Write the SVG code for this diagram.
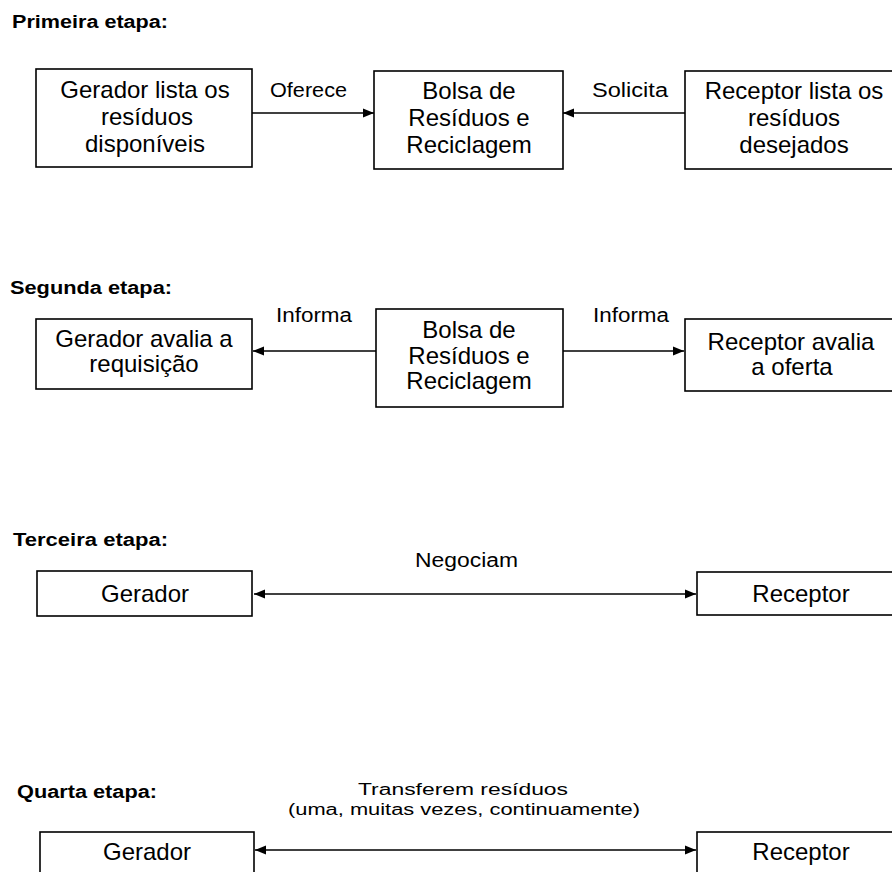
<svg xmlns="http://www.w3.org/2000/svg" width="892" height="872" viewBox="0 0 892 872">
<style>
.box{fill:#fff;stroke:#000;stroke-width:1.6}
.t{font-family:"Liberation Sans",Arial,sans-serif;font-size:24px;fill:#000;text-anchor:middle}
.lbl{font-family:"Liberation Sans",Arial,sans-serif;font-size:20px;fill:#000}
.sm{font-size:16px}
.ttl{font-family:"Liberation Sans",Arial,sans-serif;font-size:18px;font-weight:bold;fill:#000}
.ln{stroke:#000;stroke-width:1.6;fill:none}
</style>
<defs>
<marker id="ah" markerUnits="userSpaceOnUse" markerWidth="12" markerHeight="10" refX="11" refY="5" orient="auto-start-reverse">
<path d="M0,0.5 L11,5 L0,9.5 z" fill="#000"/>
</marker>
</defs>
<rect width="892" height="872" fill="#fff"/>

<g id="titles">
<text class="ttl" x="12" y="28" textLength="156" lengthAdjust="spacingAndGlyphs">Primeira etapa:</text>
<text class="ttl" x="10" y="294" textLength="162" lengthAdjust="spacingAndGlyphs">Segunda etapa:</text>
<text class="ttl" x="13" y="546" textLength="155" lengthAdjust="spacingAndGlyphs">Terceira etapa:</text>
<text class="ttl" x="17" y="798" textLength="140" lengthAdjust="spacingAndGlyphs">Quarta etapa:</text>
</g>

<g id="connectors">
<line class="ln" x1="252" y1="113" x2="374" y2="113" marker-end="url(#ah)"/>
<line class="ln" x1="685" y1="113" x2="563" y2="113" marker-end="url(#ah)"/>
<line class="ln" x1="376" y1="351" x2="253" y2="351" marker-end="url(#ah)"/>
<line class="ln" x1="563" y1="351" x2="684" y2="351" marker-end="url(#ah)"/>
<line class="ln" x1="254" y1="594" x2="696" y2="594" marker-start="url(#ah)" marker-end="url(#ah)"/>
<line class="ln" x1="255" y1="850" x2="696" y2="850" marker-start="url(#ah)" marker-end="url(#ah)"/>
<text class="lbl" x="270" y="97" textLength="77" lengthAdjust="spacingAndGlyphs">Oferece</text>
<text class="lbl" x="592" y="97" textLength="76" lengthAdjust="spacingAndGlyphs">Solicita</text>
<text class="lbl" x="276" y="322" textLength="76" lengthAdjust="spacingAndGlyphs">Informa</text>
<text class="lbl" x="593" y="322" textLength="76" lengthAdjust="spacingAndGlyphs">Informa</text>
<text class="lbl" x="415" y="567" textLength="103" lengthAdjust="spacingAndGlyphs">Negociam</text>
<text class="lbl sm" x="358" y="795" textLength="210" lengthAdjust="spacingAndGlyphs">Transferem resíduos</text>
<text class="lbl sm" x="288" y="815" textLength="352" lengthAdjust="spacingAndGlyphs">(uma, muitas vezes, continuamente)</text>
</g>

<g id="s1-gerador">
<rect class="box" x="36" y="69" width="216" height="98"/>
<text class="t" x="145" y="98">Gerador lista os</text>
<text class="t" x="147" y="125">resíduos</text>
<text class="t" x="145" y="152">disponíveis</text>
</g>
<g id="s1-bolsa">
<rect class="box" x="374" y="71" width="189" height="98"/>
<text class="t" x="469" y="99">Bolsa de</text>
<text class="t" x="469" y="126">Resíduos e</text>
<text class="t" x="469" y="153">Reciclagem</text>
</g>
<g id="s1-receptor">
<rect class="box" x="685" y="71" width="218" height="98"/>
<text class="t" x="794" y="99">Receptor lista os</text>
<text class="t" x="794" y="126">resíduos</text>
<text class="t" x="794" y="153">desejados</text>
</g>

<g id="s2-gerador">
<rect class="box" x="36" y="319" width="216" height="70"/>
<text class="t" x="144" y="347">Gerador avalia a</text>
<text class="t" x="144" y="372">requisição</text>
</g>
<g id="s2-bolsa">
<rect class="box" x="376" y="309" width="187" height="98"/>
<text class="t" x="469" y="338">Bolsa de</text>
<text class="t" x="469" y="364">Resíduos e</text>
<text class="t" x="469" y="389">Reciclagem</text>
</g>
<g id="s2-receptor">
<rect class="box" x="685" y="319" width="218" height="72"/>
<text class="t" x="791" y="350">Receptor avalia</text>
<text class="t" x="792" y="375">a oferta</text>
</g>

<g id="s3-gerador">
<rect class="box" x="37" y="571" width="215" height="45"/>
<text class="t" x="145" y="602">Gerador</text>
</g>
<g id="s3-receptor">
<rect class="box" x="697" y="572" width="209" height="43"/>
<text class="t" x="801" y="602">Receptor</text>
</g>

<g id="s4-gerador">
<rect class="box" x="40" y="832" width="214" height="50"/>
<text class="t" x="147" y="860">Gerador</text>
</g>
<g id="s4-receptor">
<rect class="box" x="697" y="832" width="209" height="50"/>
<text class="t" x="801" y="860">Receptor</text>
</g>
</svg>
